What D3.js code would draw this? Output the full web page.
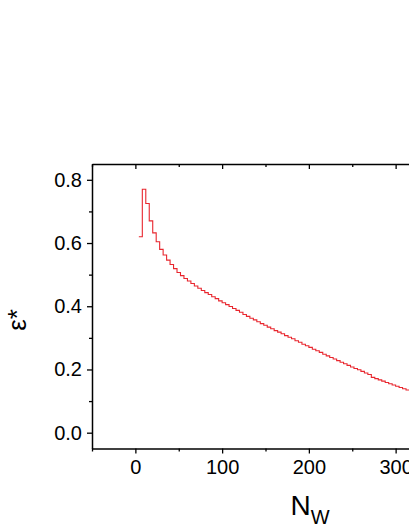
<!DOCTYPE html>
<html>
<head>
<meta charset="utf-8">
<script src="https://cdn.jsdelivr.net/npm/d3@7"></script>
<style>
  body { margin: 0; background: #fff; }
  svg { display: block; font-family: Arial, "Liberation Sans", sans-serif; }
</style>
</head>
<body>
<svg id="chart" width="409" height="529"></svg>
<script>
// step positions (N_W) and the value held from each one
var stepN = [4, 8, 12, 16, 20, 24, 28, 32, 36, 40, 44, 48, 52, 56, 60, 64, 68, 72, 76, 80,
  84, 88, 92, 96, 100, 104, 108, 112, 116, 120, 124, 128, 132, 136, 140, 144, 148, 152, 156, 160,
  164, 168, 172, 176, 180, 184, 188, 192, 196, 200, 204, 208, 212, 216, 220, 224, 228, 232, 236, 240,
  244, 248, 252, 256, 260, 264, 268, 272, 276, 280, 284, 288, 292, 296, 300, 304, 308, 312, 316, 320];
var epsValues = [0.620, 0.770, 0.725, 0.670, 0.632, 0.604, 0.580, 0.562, 0.546, 0.532,
  0.519, 0.507, 0.497, 0.488, 0.480, 0.472, 0.464, 0.457, 0.450, 0.443,
  0.437, 0.430, 0.424, 0.417, 0.411, 0.405, 0.399, 0.393, 0.387, 0.381,
  0.374, 0.368, 0.362, 0.357, 0.351, 0.345, 0.340, 0.334, 0.329, 0.323,
  0.318, 0.313, 0.307, 0.302, 0.297, 0.291, 0.286, 0.280, 0.275, 0.270,
  0.264, 0.259, 0.254, 0.248, 0.243, 0.238, 0.233, 0.228, 0.223, 0.218,
  0.213, 0.208, 0.203, 0.199, 0.194, 0.189, 0.184, 0.175, 0.171, 0.167,
  0.163, 0.159, 0.155, 0.151, 0.147, 0.143, 0.139, 0.135, 0.132, 0.130];

var xMajor = [0, 100, 200, 300];
var xMinor = [-50, 50, 150, 250, 350];
var yMajor = [0.0, 0.2, 0.4, 0.6, 0.8];
var yMinor = [0.1, 0.3, 0.5, 0.7];

var svg = d3.select("#chart");

var x = d3.scaleLinear().domain([-50, 350]).range([92, 439]);
var y = d3.scaleLinear().domain([-0.05, 0.85]).range([448.5, 164]);

var data = stepN.map((n, i) => ({ n: n, v: epsValues[i] }));

// la courbe en escalier
var line = d3.line()
  .x(d => x(d.n))
  .y(d => y(d.v))
  .curve(d3.curveStepAfter);

svg.append("path")
  .datum(data)
  .attr("fill", "none")
  .attr("stroke", "#e8262e")
  .attr("stroke-width", 1.1)
  .attr("d", line);

// axe du bas
var axBottom = svg.append("g").attr("transform", `translate(0, ${y.range()[0]})`);
axBottom.call(d3.axisBottom(x).tickValues(xMajor).tickSize(5).tickSizeOuter(0).tickPadding(4).tickFormat(d3.format("d")));
axBottom.append("g").call(d3.axisBottom(x).tickValues(xMinor).tickSize(3).tickSizeOuter(0).tickFormat(""))
  .select(".domain").remove();

// axe du haut (graduations vers l'intérieur)
var axTop = svg.append("g").attr("transform", `translate(0, ${y.range()[1]})`);
axTop.call(d3.axisBottom(x).tickValues(xMajor).tickSize(5).tickSizeOuter(0).tickFormat(""));
axTop.append("g").call(d3.axisBottom(x).tickValues(xMinor).tickSize(3).tickSizeOuter(0).tickFormat(""))
  .select(".domain").remove();

// axe de gauche
var axLeft = svg.append("g").attr("transform", `translate(${x.range()[0]}, 0)`);
axLeft.call(d3.axisLeft(y).tickValues(yMajor).tickSize(5).tickSizeOuter(0).tickPadding(5).tickFormat(d3.format(".1f")));
axLeft.append("g").call(d3.axisLeft(y).tickValues(yMinor).tickSize(3).tickSizeOuter(0).tickFormat(""))
  .select(".domain").remove();

svg.selectAll(".domain").attr("stroke", "#000").attr("stroke-width", 1.5);
svg.selectAll(".tick line").attr("stroke", "#000").attr("stroke-width", 1.3);
svg.selectAll(".tick text").attr("font-size", 20).attr("fill", "#000")
  .attr("font-family", "Arial, 'Liberation Sans', sans-serif");
axBottom.selectAll(".tick text").attr("dy", "0.8em");

// titres des axes
var xt = svg.append("text")
  .attr("x", 310).attr("y", 515)
  .attr("text-anchor", "middle")
  .attr("font-size", 28);
xt.append("tspan").text("N");
xt.append("tspan").attr("font-size", 20).attr("dy", 9).text("W");

svg.append("text")
  .attr("transform", "translate(26, 320) rotate(-90)")
  .attr("text-anchor", "middle")
  .attr("font-size", 26)
  .text("ε*");
</script>
</body>
</html>
